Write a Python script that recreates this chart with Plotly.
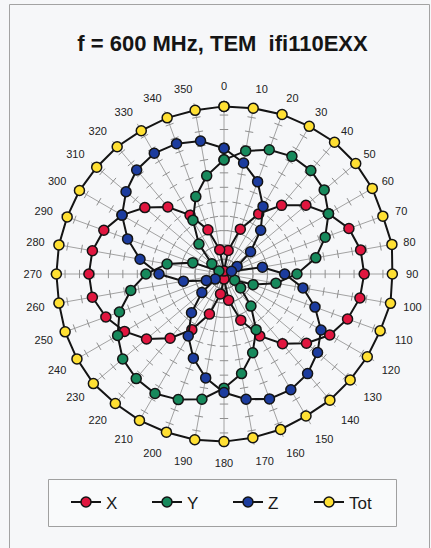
import numpy as np
import plotly.graph_objects as go

# Field strength components around the EUT, every 10 degrees (V/m)
angles = list(range(0, 360, 10))

x_vals = [0.2, 1.65, 3.3, 4.8, 6.2, 7.4, 8.35, 9.2, 9.6, 9.7, 9.55, 9.1,
          8.45, 7.45, 6.3, 4.95, 3.4, 1.85, 0.35, 1.4, 2.95, 4.45, 5.8, 7.0,
          7.95, 8.7, 9.25, 9.35, 9.25, 8.85, 8.15, 7.15, 6.05, 4.7, 3.25, 1.7]

y_vals = [7.9, 8.65, 9.15, 9.4, 9.35, 9.05, 8.35, 7.45, 6.45, 5.05, 3.65, 2.15,
          0.85, 1.5, 2.9, 4.45, 5.8, 7.0, 7.9, 8.8, 9.25, 9.55, 9.45, 9.15,
          8.5, 7.7, 6.55, 5.4, 4.0, 2.3, 0.4, 1.1, 2.7, 4.3, 5.7, 6.9]

z_vals = [8.7, 7.8, 6.8, 5.4, 3.95, 2.4, 1.05, 0.55, 2.7, 4.2, 5.55, 6.7,
          7.75, 8.45, 9.0, 9.25, 9.2, 8.8, 8.2, 7.3, 6.2, 4.95, 3.5, 2.0,
          0.7, 1.3, 2.85, 4.5, 5.9, 7.1, 8.15, 8.85, 9.4, 9.65, 9.6, 9.35]

tot_vals = [11.6, 11.65, 11.75, 11.8, 11.9, 11.9, 11.85, 11.7, 11.8, 11.65, 11.7, 11.5,
            11.45, 11.4, 11.4, 11.35, 11.45, 11.5, 11.6, 11.65, 11.65, 11.7, 11.7, 11.8,
            11.75, 11.7, 11.6, 11.6, 11.6, 11.55, 11.55, 11.5, 11.5, 11.45, 11.5, 11.5]

series_names = ["X", "Y", "Z", "Tot"]
series_colors = ["#e0163f", "#17895c", "#1c3c9e", "#ffe033"]

r_max = 12
radial_ticks = list(range(1, r_max))

fig = go.Figure()

# small cross ticks along every spoke
tk_theta, tk_r = np.meshgrid(np.array(angles, dtype=float), np.array(radial_ticks, dtype=float))
fig.add_trace(go.Scatterpolar(
    r=tk_r.ravel(), theta=tk_theta.ravel(), mode="markers",
    marker=dict(symbol="line-ew", size=6, angle=tk_theta.ravel(),
                line=dict(width=1, color="#8f8f8f")),
    hoverinfo="skip", showlegend=False,
))

for name, vals, col in zip(series_names, [x_vals, y_vals, z_vals, tot_vals], series_colors):
    fig.add_trace(go.Scatterpolar(
        r=vals + vals[:1], theta=angles + angles[:1], name=name,
        mode="lines+markers",
        line=dict(color="#141414", width=2),
        marker=dict(size=10, color=col, line=dict(color="#141414", width=1.5)),
    ))

W, H = 431, 548
cx, cy, rad = 224, 274, 173.4

fig.update_layout(
    width=W, height=H,
    margin=dict(l=0, r=0, t=0, b=0),
    paper_bgcolor="#f6f7f9",
    font=dict(family="Liberation Sans, Arial, sans-serif", color="#1a1a1a"),
    title=dict(text="<b>f = 600 MHz, TEM\u00a0 ifi110EXX</b>",
               x=222.5 / W, xanchor="center", y=1 - 43 / H, yanchor="middle",
               font=dict(size=22, color="#151515")),
    polar=dict(
        domain=dict(x=[(cx - rad) / W, (cx + rad) / W],
                    y=[(H - cy - rad) / H, (H - cy + rad) / H]),
        bgcolor="rgba(0,0,0,0)",
        angularaxis=dict(rotation=90, direction="clockwise",
                         tickvals=angles, ticktext=[str(a) for a in angles],
                         ticks="outside", ticklen=6, tickcolor="rgba(0,0,0,0)",
                         showline=False,
                         gridcolor="#a2a2a2", gridwidth=1,
                         tickfont=dict(size=11, color="#222")),
        radialaxis=dict(range=[0, r_max], showticklabels=False, ticks="",
                        showline=False, showgrid=False),
    ),
    legend=dict(orientation="h", x=66 / W, xanchor="left",
                y=1 - 502.5 / H, yanchor="middle",
                bgcolor="rgba(0,0,0,0)", borderwidth=0,
                font=dict(size=17, color="#1a1a1a"),
                entrywidth=36, entrywidthmode="pixels",
                itemclick=False),
    shapes=[
        dict(type="rect", xref="paper", yref="paper",
             x0=9.5 / W, x1=429.5 / W, y0=-0.05, y1=1 - 4.5 / H,
             line=dict(color="#a3a3a3", width=1), layer="below"),
        dict(type="rect", xref="paper", yref="paper",
             x0=48.5 / W, x1=396.5 / W, y0=1 - 526.5 / H, y1=1 - 479.5 / H,
             line=dict(color="#a0a0a0", width=1), fillcolor="#f9fafb",
             layer="below"),
    ],
)

fig.write_html("out.html")
